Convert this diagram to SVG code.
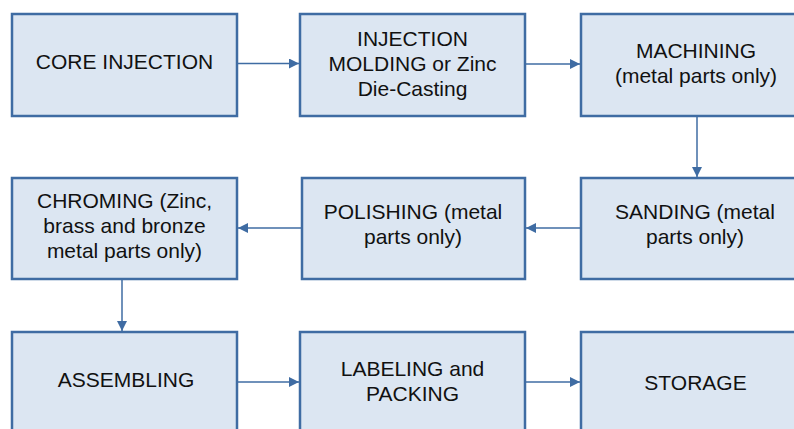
<svg xmlns="http://www.w3.org/2000/svg" width="794" height="429" viewBox="0 0 794 429">
<defs>
<style>
.box{fill:#dce6f2;stroke:#3f6ca3;stroke-width:2.5}
.lbl{font-family:"Liberation Sans",Arial,sans-serif;font-size:21px;fill:#111;text-anchor:middle}
.con{stroke:#3f6ca3;stroke-width:1.5;fill:none;marker-end:url(#ah)}
</style>
<marker id="ah" viewBox="0 0 10 10" refX="10" refY="5" markerWidth="10" markerHeight="10" markerUnits="userSpaceOnUse" orient="auto">
<path d="M0,0 L10,5 L0,10 z" fill="#3f6ca3"/>
</marker>
</defs>
<rect width="794" height="429" fill="#ffffff"/>
<g id="connectors">
<line class="con" x1="237" y1="63.5" x2="299" y2="63.5"/>
<line class="con" x1="525" y1="64" x2="580" y2="64"/>
<line class="con" x1="697" y1="116" x2="697" y2="177"/>
<line class="con" x1="581" y1="228" x2="526" y2="228"/>
<line class="con" x1="302" y1="228" x2="238" y2="228"/>
<line class="con" x1="122" y1="279" x2="122" y2="331"/>
<line class="con" x1="237" y1="382" x2="299" y2="382"/>
<line class="con" x1="525" y1="382" x2="580" y2="382"/>
</g>
<g id="core-injection">
<rect class="box" x="12" y="14" width="225" height="102"/>
<text class="lbl" x="124.5" y="69">CORE INJECTION</text>
</g>
<g id="injection-molding">
<rect class="box" x="300" y="14" width="225" height="102"/>
<text class="lbl" x="412.5" y="46">INJECTION</text>
<text class="lbl" x="412.5" y="71">MOLDING or Zinc</text>
<text class="lbl" x="412.5" y="96">Die-Casting</text>
</g>
<g id="machining">
<rect class="box" x="581" y="14" width="230" height="102"/>
<text class="lbl" x="696" y="58">MACHINING</text>
<text class="lbl" x="696" y="83">(metal parts only)</text>
</g>
<g id="sanding">
<rect class="box" x="581" y="178" width="230" height="101"/>
<text class="lbl" x="695" y="219">SANDING (metal</text>
<text class="lbl" x="695" y="244">parts only)</text>
</g>
<g id="polishing">
<rect class="box" x="302" y="178" width="223" height="101"/>
<text class="lbl" x="413" y="219">POLISHING (metal</text>
<text class="lbl" x="413" y="244">parts only)</text>
</g>
<g id="chroming">
<rect class="box" x="12" y="178" width="225" height="101"/>
<text class="lbl" x="124.5" y="208">CHROMING (Zinc,</text>
<text class="lbl" x="124.5" y="233">brass and bronze</text>
<text class="lbl" x="124.5" y="258">metal parts only)</text>
</g>
<g id="assembling">
<rect class="box" x="12" y="332" width="225" height="110"/>
<text class="lbl" x="126" y="387">ASSEMBLING</text>
</g>
<g id="labeling">
<rect class="box" x="300" y="332" width="225" height="110"/>
<text class="lbl" x="412.5" y="376">LABELING and</text>
<text class="lbl" x="412.5" y="401">PACKING</text>
</g>
<g id="storage">
<rect class="box" x="581" y="332" width="230" height="110"/>
<text class="lbl" x="695.5" y="390">STORAGE</text>
</g>
</svg>
